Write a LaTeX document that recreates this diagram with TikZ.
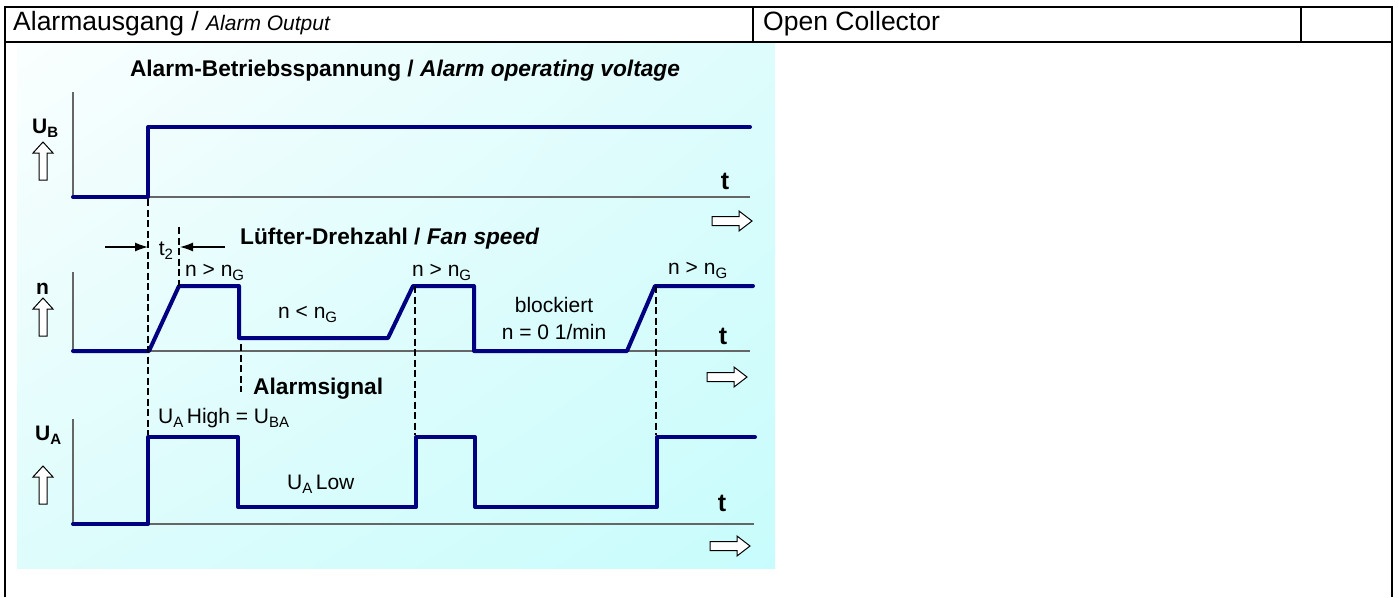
\documentclass[tikz,border=0pt]{standalone}
\usepackage{fontspec}
\setmainfont{Liberation Sans}
\usetikzlibrary{arrows.meta,shadings}
\definecolor{sig}{HTML}{000080}
\definecolor{axisgray}{HTML}{666666}
\definecolor{bgul}{RGB}{250,254,254}
\definecolor{bgur}{RGB}{222,252,252}
\definecolor{bgll}{RGB}{222,252,252}
\definecolor{bglr}{RGB}{200,252,252}
\newcommand\fs[1]{\fontsize{#1}{#1}\selectfont}
\newcommand\sbs[1]{\raisebox{-0.22em}{\fs{15}#1}}
\newcommand\bsbs[1]{\raisebox{-0.22em}{\fs{15}\bfseries #1}}
\begin{document}
\begin{tikzpicture}[x=1pt,y=-1pt,
  frame/.style={line width=2pt,black},
  signal/.style={sig,line width=4pt,line join=round,line cap=round},
  axisline/.style={axisgray,line width=1.3pt},
  vline/.style={black,line width=1.4pt,dash pattern=on 7pt off 3.5pt},
  lbl/.style={inner sep=0pt,anchor=base west,font=\fs{21}},
  clbl/.style={inner sep=0pt,anchor=base,font=\fs{21}},
  blbl/.style={inner sep=0pt,anchor=base west,font=\fs{22.7}\bfseries},
  axlbl/.style={inner sep=0pt,anchor=base west,font=\fs{21}\bfseries},
  tlbl/.style={inner sep=0pt,anchor=base,font=\fs{25}\bfseries},
  openarrow/.style={draw=black,fill=white,line width=1pt,line join=miter},
  dimarrow/.style={black,line width=1.3pt,-{Latex[length=13pt,width=9pt]}},
  uparr/.pic={\draw[openarrow] (-4,0) -- (-4,-27) -- (-10,-27) -- (0,-38) -- (10,-27) -- (4,-27) -- (4,0) -- cycle;},
  rarr/.pic={\draw[openarrow] (0,-4.5) -- (27,-4.5) -- (27,-10) -- (40,0) -- (27,10) -- (27,4.5) -- (0,4.5) -- cycle;}
]
\useasboundingbox (0,0) rectangle (1399,597);
\fill[white] (0,0) rectangle (1399,597);
% background panel
\shade[upper left=bgul,upper right=bgur,lower left=bgll,lower right=bglr]
  (17,43) rectangle (775,568);
% frame
\draw[frame] (5,597) -- (5,7) -- (1392,7) -- (1392,597);
\draw[frame] (5,42) -- (1392,42);
\draw[frame] (753,7) -- (753,42);
\draw[frame] (1301,7) -- (1301,42);
\node[inner sep=0pt,anchor=base west,font=\fs{26.5}] (hdr) at (13,30) {Alarmausgang / \textit{\fs{21}Alarm Output}};
\node[inner sep=0pt,anchor=base west,font=\fs{26.5}] (oc) at (763,30) {Open Collector};
% title
\node[inner sep=0pt,anchor=base,font=\fs{22.7}\bfseries] (title) at (405,76) {Alarm-Betriebsspannung / \textit{Alarm operating voltage}};
% ---------- chart 1: U_B
\draw[axisline] (73,92) -- (73,197) -- (750,197);
\draw[signal] (73,197) -- (148,197) -- (148,127) -- (750,127);
\node[axlbl] (ub) at (32,133) {U\bsbs{B}};
\pic at (43,180) {uparr};
\node[tlbl] (t1) at (725,189) {t};
\pic at (712,221) {rarr};
% ---------- chart 2: n
\node[blbl] (fan) at (240,244) {Lüfter-Drehzahl / \textit{Fan speed}};
\draw[axisline] (73,272) -- (73,351) -- (750,351);
\draw[signal] (73,351) -- (149,351) -- (179,286) -- (239,286) -- (239,338) -- (388,338) -- (413,286) -- (474,286) -- (474,351) -- (627,351) -- (655,286) -- (753,286);
\node[axlbl] (n) at (36,294) {n};
\pic at (43,336) {uparr};
\node[lbl] (ng1) at (185,276) {n > n\sbs{G}};
\node[lbl] (ng2) at (412,276) {n > n\sbs{G}};
\node[lbl] (ng3) at (668,274) {n > n\sbs{G}};
\node[lbl] (nl) at (278,318) {n < n\sbs{G}};
\node[clbl] (blk) at (554,312) {blockiert};
\node[clbl] (nz) at (554,339) {n = 0 1/min};
\node[tlbl] (t2) at (723,344) {t};
\pic at (707,377) {rarr};
% t2 dimension
\coordinate (d1) at (148,247);
\coordinate (d2) at (180,247);
\coordinate (d1s) at (105,247);
\coordinate (d2s) at (225,247);
\draw[dimarrow] (d1s) -- (d1);
\draw[dimarrow] (d2s) -- (d2);
\node[clbl] (t2l) at (166,255) {t\sbs{2}};
% dashed verticals
\draw[vline] (148,199) -- (148,435);
\draw[vline] (179,227) -- (179,286);
\draw[vline] (241,344) -- (241,392);
\draw[vline] (415,286) -- (415,435);
\draw[vline] (656,286) -- (656,435);
% ---------- chart 3: U_A
\node[blbl] (alarm) at (253,394) {Alarmsignal};
\draw[axisline] (73,419) -- (73,524) -- (754,524);
\draw[signal] (73,524) -- (148,524) -- (148,437) -- (238,437) -- (238,507) -- (416,507) -- (416,437) -- (475,437) -- (475,507) -- (657,507) -- (657,437) -- (755,437);
\node[axlbl] (ua) at (35,440) {U\bsbs{A}};
\pic at (43,504) {uparr};
\node[lbl] (hi) at (158,423) {U\sbs{A}\,High = U\sbs{BA}};
\node[lbl] (lo) at (287,489) {U\sbs{A}\,Low};
\node[tlbl] (t3) at (722,511) {t};
\pic at (710,546) {rarr};
\end{tikzpicture}
\end{document}
